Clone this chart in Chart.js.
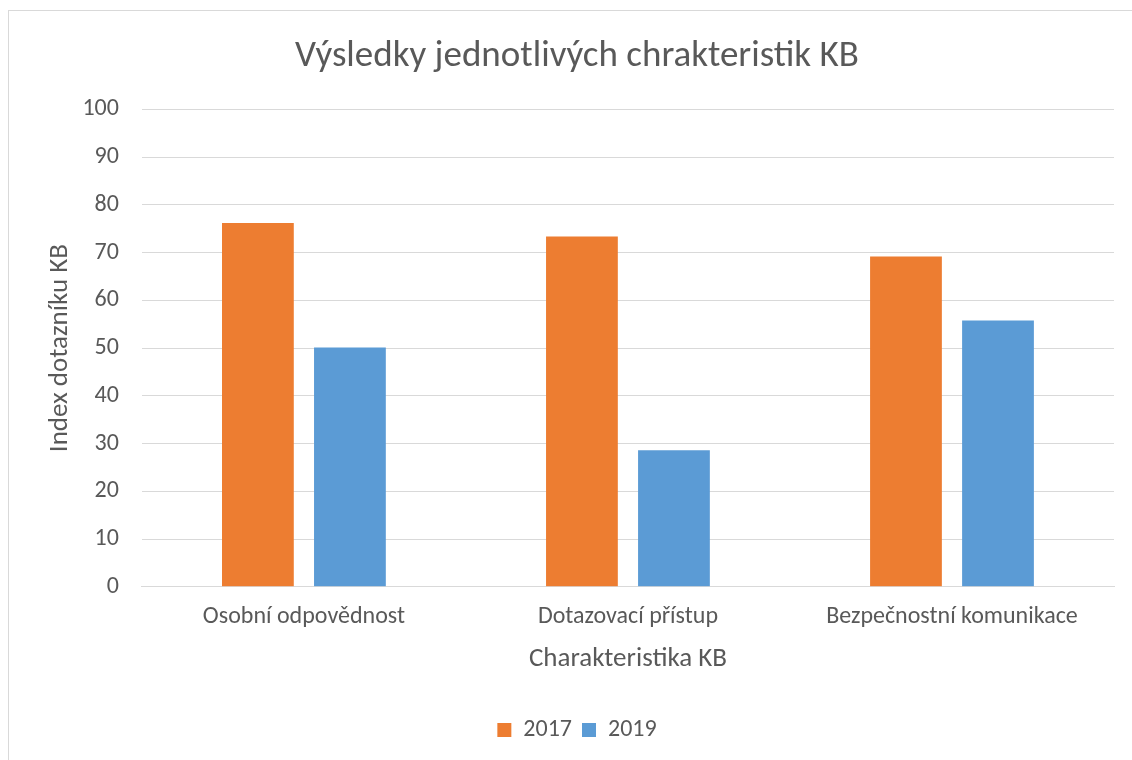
<!DOCTYPE html>
<html>
<head>
<meta charset="utf-8">
<script src="https://cdn.jsdelivr.net/npm/chart.js@4/dist/chart.umd.min.js"></script>
<style>
  html, body { margin: 0; padding: 0; background: #fff; }
  #wrap { position: relative; width: 1132px; height: 760px; }
  #frame { position: absolute; left: 8px; top: 10px; width: 1140px; height: 780px;
           border: 1px solid #d9d9d9; pointer-events: none; }
</style>
</head>
<body>
<div id="wrap">
  <canvas id="kbChart" width="1132" height="760"></canvas>
  <div id="frame"></div>
</div>
<script>
// Data
const categories = ['Osobní odpovědnost', 'Dotazovací přístup', 'Bezpečnostní komunikace'];
const values2017 = [76.2, 73.4, 69.2];
const values2019 = [50.1, 28.6, 55.8];
const seriesLabels = ['2017', '2019'];

const textColor = '#595959';
const gridColor = '#d9d9d9';
const fontFamily = 'Carlito, Lato, "Open Sans", sans-serif';

const ctx = document.getElementById('kbChart').getContext('2d');
const kbChart = new Chart(ctx, {
    type: 'bar',
    data: {
        labels: categories,
        datasets: [{
            label: seriesLabels[0],
            data: values2017,
            backgroundColor: '#ED7D31',
            categoryPercentage: 0.568,
            barPercentage: 0.78
        }, {
            label: seriesLabels[1],
            data: values2019,
            backgroundColor: '#5B9BD5',
            categoryPercentage: 0.568,
            barPercentage: 0.78
        }]
    },
    options: {
        responsive: false,
        animation: false,
        layout: {
            padding: { left: 40, right: 18, top: 0, bottom: 8 }
        },
        plugins: {
            title: {
                display: true,
                text: 'Výsledky jednotlivých chrakteristik KB',
                color: textColor,
                font: { family: fontFamily, size: 37, weight: 'normal' },
                padding: { top: 35, bottom: 30 }
            },
            legend: {
                position: 'bottom',
                labels: {
                    color: textColor,
                    font: { family: fontFamily, size: 24 },
                    boxWidth: 14,
                    boxHeight: 14,
                    padding: 10
                }
            },
            tooltip: { enabled: false }
        },
        scales: {
            x: {
                grid: { display: false, drawTicks: false },
                border: { display: true, color: gridColor, width: 1 },
                ticks: {
                    color: textColor,
                    font: { family: fontFamily, size: 24 },
                    padding: 16
                },
                title: {
                    display: true,
                    text: 'Charakteristika KB',
                    color: textColor,
                    font: { family: fontFamily, size: 27 },
                    padding: { top: -5, bottom: 33 }
                }
            },
            y: {
                min: 0,
                max: 100,
                ticks: {
                    stepSize: 10,
                    color: textColor,
                    font: { family: fontFamily, size: 24 },
                    padding: 23
                },
                grid: { color: gridColor, lineWidth: 1, drawTicks: false },
                border: { display: false },
                title: {
                    display: true,
                    text: 'Index dotazníku KB',
                    color: textColor,
                    font: { family: fontFamily, size: 27 },
                    padding: { top: 4, bottom: -17 }
                }
            }
        }
    }
});
</script>
</body>
</html>
